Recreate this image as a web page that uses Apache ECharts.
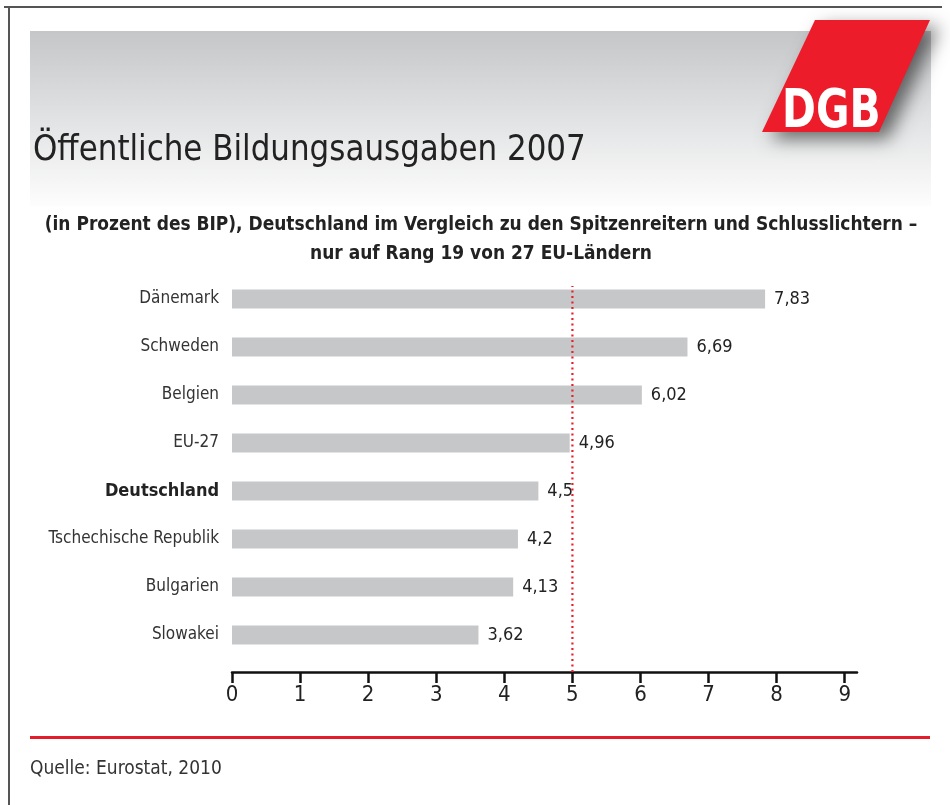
<!DOCTYPE html>
<html>
<head>
<meta charset="utf-8">
<script src="https://cdn.jsdelivr.net/npm/echarts@6/dist/echarts.min.js"></script>
<style>
html,body{margin:0;padding:0;background:#fff;}
#chart{width:950px;height:805px;}
</style>
</head>
<body>
<div id="chart"></div>
<script>
const categories = ['Dänemark','Schweden','Belgien','EU-27','Deutschland','Tschechische Republik','Bulgarien','Slowakei'];
const values = [7.83, 6.69, 6.02, 4.96, 4.5, 4.2, 4.13, 3.62];
const highlight = 'Deutschland';
const referenceValue = 5;
const xTicks = [0,1,2,3,4,5,6,7,8,9];
const titleText = 'Öffentliche Bildungsausgaben 2007';
const subtitleText = '(in Prozent des BIP), Deutschland im Vergleich zu den Spitzenreitern und Schlusslichtern –\nnur auf Rang 19 von 27 EU-Ländern';
const sourceText = 'Quelle: Eurostat, 2010';

const FONT = '"Liberation Sans Narrow","DejaVu Sans Condensed",sans-serif';
const chart = echarts.init(document.getElementById('chart'), null, {renderer:'canvas'});
const fmt = v => String(v).replace('.', ',');

chart.setOption({
  animation:false,
  backgroundColor:'#fff',
  textStyle:{fontFamily:FONT},
  graphic:[
    {type:'line', shape:{x1:4,y1:7,x2:942,y2:7}, style:{stroke:'#555',lineWidth:2}, z:1},
    {type:'line', shape:{x1:9,y1:7,x2:9,y2:805}, style:{stroke:'#555',lineWidth:2}, z:1},
    {type:'rect', shape:{x:30,y:31,width:901,height:175},
      style:{fill:new echarts.graphic.LinearGradient(0,0,0,1,[
        {offset:0,color:'#c5c6c8'},{offset:0.55,color:'#e4e5e6'},{offset:1,color:'#fdfdfd'}])}, z:0},
    {type:'polygon', shape:{points:[[815,20],[930,20],[879,132],[762,132]]},
      style:{fill:'#ed1c2b',shadowBlur:18,shadowColor:'rgba(0,0,0,0.55)',shadowOffsetX:9,shadowOffsetY:7}, z:2},
    {type:'text', x:782, y:86, scaleX:0.84, style:{text:'DGB', fill:'#fff', font:'bold 54px "Liberation Sans Narrow","DejaVu Sans Condensed",sans-serif'}, z:3},
    {type:'text', x:33, y:133, scaleX:0.956, style:{text:titleText, fill:'#222', font:'36px "Liberation Sans Narrow","DejaVu Sans Condensed",sans-serif'}, z:3},
    {type:'text', x:481, y:210, scaleX:0.947, style:{text:subtitleText, fill:'#222', align:'center', lineHeight:29,
      font:'bold 20px "Liberation Sans Narrow","DejaVu Sans Condensed",sans-serif'}, z:3},
    {type:'rect', shape:{x:30,y:736,width:900,height:3}, style:{fill:'#e31e2a'}, z:1},
    {type:'text', x:30, y:760, style:{text:sourceText, fill:'#333', font:'19px "Liberation Sans Narrow","DejaVu Sans Condensed",sans-serif'}, z:3}
  ],
  grid:[
    {left:232, top:275, width:625, height:384, containLabel:false},
    {left:232, top:286, width:625, height:386, containLabel:false}
  ],
  xAxis:[
    {type:'value', gridIndex:0, min:0, max:9.18, interval:1, offset:13,
      axisLine:{show:true, lineStyle:{color:'#111', width:2.5}},
      axisTick:{show:true, length:11, lineStyle:{color:'#111', width:2.5}, customValues:xTicks},
      axisLabel:{color:'#222', fontSize:22, margin:12, fontFamily:FONT, customValues:xTicks},
      splitLine:{show:false}},
    {type:'value', gridIndex:1, min:0, max:9.18, show:false}
  ],
  yAxis:[
    {type:'category', gridIndex:0, data:categories, inverse:true,
      axisLine:{show:false}, axisTick:{show:false},
      axisLabel:{margin:13, fontSize:17, color:'#333', fontFamily:FONT,
        formatter: v => v === highlight ? '{b|' + v + '}' : v,
        rich:{b:{fontWeight:'bold', fontSize:18, color:'#222', fontFamily:FONT}}}},
    {type:'value', gridIndex:1, min:0, max:1, show:false}
  ],
  series:[
    {type:'bar', xAxisIndex:0, yAxisIndex:0, data:values, barWidth:19,
      itemStyle:{color:'#c6c7c9'},
      label:{show:true, position:'right', distance:9, color:'#222', fontSize:18, fontFamily:FONT,
        formatter: p => fmt(p.value)}, z:2},
    {type:'line', xAxisIndex:1, yAxisIndex:1, data:[[referenceValue,0],[referenceValue,1]],
      symbol:'none', lineStyle:{color:'#e8202a', width:2.2, type:[2,3.5]}, z:3}
  ]
});
</script>
</body>
</html>
